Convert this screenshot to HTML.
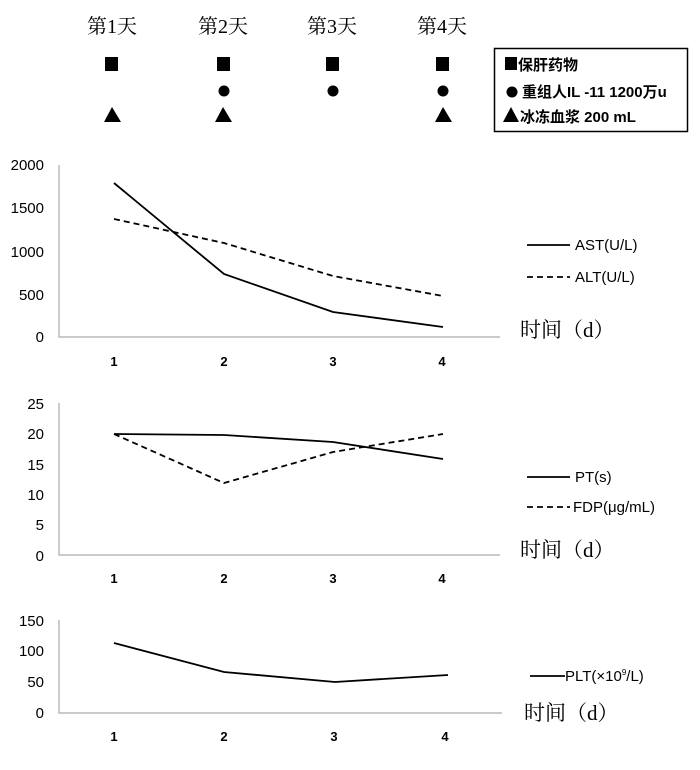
<!DOCTYPE html>
<html><head><meta charset="utf-8"><style>
body{margin:0;background:#fff}
svg text{font-family:"Liberation Sans","Noto Sans CJK SC",sans-serif;fill:#000}
.s{font-family:"Liberation Serif","Noto Serif CJK SC",serif}
</style></head><body>
<svg width="700" height="765" viewBox="0 0 700 765" xmlns="http://www.w3.org/2000/svg">
<g class="s" font-size="20" text-anchor="middle">
<text class="s" x="112" y="33">第1天</text>
<text class="s" x="223" y="33">第2天</text>
<text class="s" x="332" y="33">第3天</text>
<text class="s" x="442" y="33">第4天</text>
</g>
<g fill="#000">
<rect x="105" y="57" width="13" height="14"/><rect x="217" y="57" width="13" height="14"/>
<rect x="326" y="57" width="13" height="14"/><rect x="436" y="57" width="13" height="14"/>
<circle cx="224" cy="91" r="5.5"/><circle cx="333" cy="91" r="5.5"/><circle cx="443" cy="91" r="5.5"/>
<polygon points="112,107 104,122 121,122"/><polygon points="223,107 215,122 232,122"/><polygon points="443,107 435,122 452,122"/>
</g>
<rect x="494.5" y="48.5" width="193" height="83" fill="none" stroke="#000" stroke-width="1.5"/>
<rect x="505" y="57" width="12" height="13"/>
<text x="518" y="70" font-size="15" font-weight="bold">保肝药物</text>
<circle cx="512" cy="92" r="5.5"/>
<text x="522" y="97" font-size="15" font-weight="bold">重组人IL -11 1200万u</text>
<polygon points="511,107 503,122 519,122"/>
<text x="520" y="122" font-size="15" font-weight="bold">冰冻血浆 200 mL</text>

<g stroke="#aaa" stroke-width="1.2" fill="none">
<path d="M59,165V337H500"/><path d="M59,403V555H500"/><path d="M59,620V713H502"/>
</g>
<g font-size="15" text-anchor="end">
<text x="44" y="170">2000</text><text x="44" y="213">1500</text><text x="44" y="257">1000</text><text x="44" y="300">500</text><text x="44" y="342">0</text>
<text x="44" y="409">25</text><text x="44" y="439">20</text><text x="44" y="470">15</text><text x="44" y="500">10</text><text x="44" y="530">5</text><text x="44" y="561">0</text>
<text x="44" y="626">150</text><text x="44" y="656">100</text><text x="44" y="687">50</text><text x="44" y="718">0</text>
</g>
<g font-size="13" font-weight="bold" text-anchor="middle">
<text x="114" y="366">1</text><text x="224" y="366">2</text><text x="333" y="366">3</text><text x="442" y="366">4</text>
<text x="114" y="583">1</text><text x="224" y="583">2</text><text x="333" y="583">3</text><text x="442" y="583">4</text>
<text x="114" y="741">1</text><text x="224" y="741">2</text><text x="334" y="741">3</text><text x="445" y="741">4</text>
</g>
<g stroke="#000" stroke-width="1.8" fill="none">
<polyline points="114,183 224,274 333,312 443,327"/>
<polyline points="114,219 224,243 333,276 443,296" stroke-dasharray="6,4"/>
<polyline points="114,434 224,435 333,442 443,459"/>
<polyline points="114,434 224,483 333,452 443,434" stroke-dasharray="6,4"/>
<polyline points="114,643 224,672 335,682 448,675"/>
<line x1="527" y1="245" x2="570" y2="245"/>
<line x1="527" y1="277" x2="570" y2="277" stroke-dasharray="6,4"/>
<line x1="527" y1="477" x2="570" y2="477"/>
<line x1="527" y1="507" x2="570" y2="507" stroke-dasharray="6,4"/>
<line x1="530" y1="676" x2="565" y2="676"/>
</g>
<g font-size="15">
<text x="575" y="250">AST(U/L)</text><text x="575" y="282">ALT(U/L)</text>
<text x="575" y="482">PT(s)</text><text x="573" y="512">FDP(μg/mL)</text>
<text x="565" y="681">PLT(×10<tspan font-size="8" dy="-6">9</tspan><tspan dy="6">/L)</tspan></text>
</g>
<g font-size="21">
<text class="s" x="520" y="337">时间（d）</text>
<text class="s" x="520" y="557">时间（d）</text>
<text class="s" x="524" y="720">时间（d）</text>
</g>
</svg>
</body></html>
